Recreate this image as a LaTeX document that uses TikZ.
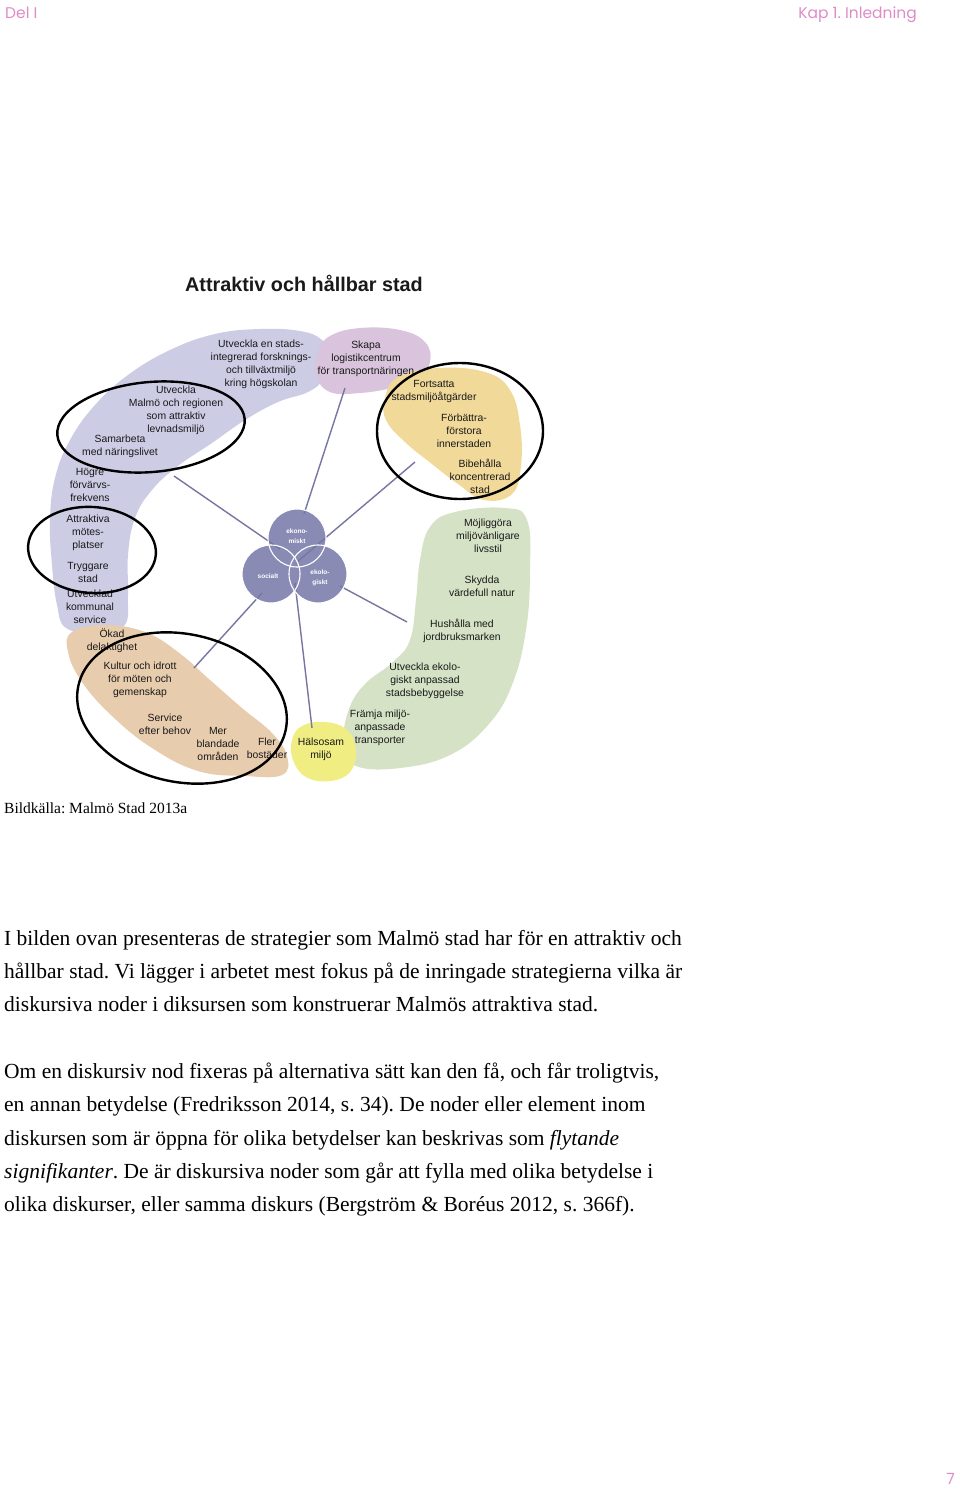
\documentclass[tikz,border=0pt]{standalone}
\usepackage{fontspec}
\setmainfont{Liberation Serif}
\newfontfamily\diafont{Liberation Sans}
\newfontfamily\headfont{Poppins}
\newfontfamily\bodyfont{Liberation Serif}
\frenchspacing
\definecolor{hdpink}{RGB}{222,140,200}
\definecolor{blueblob}{RGB}{204,205,229}
\definecolor{pinkblob}{RGB}{218,196,221}
\definecolor{yelblob}{RGB}{241,217,154}
\definecolor{greenblob}{RGB}{213,226,197}
\definecolor{tanblob}{RGB}{232,204,174}
\definecolor{halblob}{RGB}{240,238,130}
\definecolor{venn}{RGB}{138,139,181}
\definecolor{conn}{RGB}{118,118,160}
\definecolor{lbltext}{RGB}{25,25,25}
\begin{document}
\begin{tikzpicture}[x=1pt,y=-1pt,
  lbl/.style={font=\diafont\fontsize{10.4}{13}\selectfont, align=center, inner sep=0pt, text=lbltext},
  vlbl/.style={font=\diafont\bfseries\fontsize{6.5}{9.5}\selectfont, align=center, inner sep=0pt, text=white},
  body/.style={font=\bodyfont\fontsize{21.5}{26}\selectfont, anchor=base west, inner sep=0pt},
  hd/.style={font=\headfont\fontsize{15.5}{18}\selectfont, text=hdpink, inner sep=0pt},
  ring/.style={draw=black, line width=2.4pt},
  connector/.style={draw=conn, line width=1.4pt}]
\useasboundingbox (0,0) rectangle (960,1489);
\fill[white] (0,0) rectangle (960,1489);

% header
\node[hd, anchor=base west] (hdl) at (5,18) {Del I};
\node[hd, anchor=base east] (hdr) at (917,18) {Kap 1. Inledning};

% title
\node[font=\diafont\bfseries\fontsize{19.8}{23}\selectfont, inner sep=0pt, text=black!90] (title) at (304,283) {Attraktiv och hållbar stad};

% blobs
\fill[blueblob] plot[smooth cycle, tension=0.7] coordinates {
 (322,340) (300,331) (260,329) (215,334) (170,350) (128,375) (95,405) (70,440) (55,478) (50,520) (52,565) (57,605) (66,628) (95,632) (124,626) (128,595) (128,555) (135,518) (152,490) (178,466) (212,443) (245,420) (278,402) (308,392) (324,378) (328,356)};
\fill[pinkblob] plot[smooth cycle, tension=0.7] coordinates {
 (318,352) (330,336) (360,328) (400,330) (425,342) (430,362) (418,380) (392,388) (360,393) (330,392) (316,375)};
\fill[yelblob] plot[smooth cycle, tension=0.7] coordinates {
 (385,398) (398,377) (438,368) (485,372) (510,390) (520,425) (521,465) (512,494) (484,500) (458,484) (432,464) (405,442) (386,420)};
\fill[greenblob] plot[smooth cycle, tension=0.7] coordinates {
 (505,508) (527,520) (530,570) (526,630) (512,685) (488,725) (450,755) (400,768) (356,766) (344,745) (348,712) (364,685) (393,662) (410,640) (416,600) (420,560) (430,527) (455,512)};
\fill[tanblob] plot[smooth cycle, tension=0.7] coordinates {
 (72,632) (105,625) (145,632) (178,652) (210,680) (242,708) (272,733) (287,756) (282,775) (245,776) (198,771) (152,748) (112,716) (82,682) (68,652)};
\fill[halblob] plot[smooth cycle, tension=0.7] coordinates {
 (292,740) (302,726) (325,722) (347,730) (356,750) (350,772) (330,781) (306,777) (293,760)};

% venn circles
\coordinate (vE) at (297,538);
\coordinate (vS) at (271,574);
\coordinate (vK) at (318,574);
\fill[venn] (vE) circle[radius=29pt];
\fill[venn] (vS) circle[radius=29pt];
\fill[venn] (vK) circle[radius=29pt];

% connector end points
\coordinate (cBlue) at (174,476);
\coordinate (cVenn1) at (280,549);
\coordinate (cSkapa) at (345,388);
\coordinate (cVenn2) at (304,514);
\coordinate (cYel) at (415,462);
\coordinate (cVenn3) at (297,562);
\coordinate (cVenn4) at (340,586);
\coordinate (cGreen) at (407,622);
\coordinate (cVenn5) at (295,583);
\coordinate (cHals) at (312,728);
\coordinate (cVenn6) at (262,593);
\coordinate (cTan) at (194,668);

\draw[connector] (cBlue) -- (cVenn1);
\draw[connector] (cSkapa) -- (cVenn2);
\draw[connector] (cYel) -- (cVenn3);
\draw[connector] (cVenn4) -- (cGreen);
\draw[connector] (cVenn5) -- (cHals);
\draw[connector] (cVenn6) -- (cTan);

\draw[white, line width=1.1pt] (vE) circle[radius=29pt];
\draw[white, line width=1.1pt] (vS) circle[radius=29pt];
\draw[white, line width=1.1pt] (vK) circle[radius=29pt];

\node[vlbl] (ekon) at (297,536) {ekono-\\miskt};
\node[vlbl] (soc) at (268,576) {socialt};
\node[vlbl] (ekol) at (320,578) {ekolo-\\giskt};

% labels
\node[lbl] (utv1) at (261,364) {Utveckla en stads-\\integrerad forsknings-\\och tillväxtmiljö\\kring högskolan};
\node[lbl] (skapa) at (366,359) {Skapa\\logistikcentrum\\för transportnäringen};
\node[lbl] (forts) at (434,391) {Fortsatta\\stadsmiljöåtgärder};
\node[lbl] (forb) at (464,431) {Förbättra-\\förstora\\innerstaden};
\node[lbl] (bibeh) at (480,476) {Bibehålla\\koncentrerad\\stad};
\node[lbl] (utvmalmo) at (176,410) {Utveckla\\Malmö och regionen\\som attraktiv\\levnadsmiljö};
\node[lbl] (samarb) at (120,446) {Samarbeta\\med näringslivet};
\node[lbl] (hogre) at (90,485) {Högre\\förvärvs-\\frekvens};
\node[lbl] (attr) at (88,533) {Attraktiva\\mötes-\\platser};
\node[lbl] (trygg) at (88,572) {Tryggare\\stad};
\node[lbl] (kommun) at (90,607) {Utvecklad\\kommunal\\service};
\node[lbl] (okad) at (112,641) {Ökad\\delaktighet};
\node[lbl] (kultur) at (140,680) {Kultur och idrott\\för möten och\\gemenskap};
\node[lbl] (service) at (165,724) {Service\\efter behov};
\node[lbl] (mer) at (218,744) {Mer\\blandade\\områden};
\node[lbl] (fler) at (267,748) {Fler\\bostäder};
\node[lbl] (halso) at (321,749) {Hälsosam\\miljö};
\node[lbl] (framja) at (380,728) {Främja miljö-\\anpassade\\transporter};
\node[lbl] (utvekol) at (425,681) {Utveckla ekolo-\\giskt anpassad\\stadsbebyggelse};
\node[lbl] (hush) at (462,631) {Hushålla med\\jordbruksmarken};
\node[lbl] (skydda) at (482,586) {Skydda\\värdefull natur};
\node[lbl] (mojl) at (488,536) {Möjliggöra\\miljövänligare\\livsstil};

% rings
\draw[ring, rotate around={5:(151,427)}] (151,427) ellipse[x radius=94pt, y radius=45pt];
\draw[ring, rotate around={-4:(92,550)}] (92,550) ellipse[x radius=64pt, y radius=43pt];
\draw[ring] (460,431) ellipse[x radius=83pt, y radius=68pt];
\draw[ring, rotate around={-12:(182,708)}] (182,708) ellipse[x radius=106pt, y radius=74pt];

% caption and body
\node[font=\bodyfont\fontsize{15.5}{18}\selectfont, anchor=base west, inner sep=0pt] (cap) at (4,813) {Bildkälla: Malmö Stad 2013a};

\node[body] (p1) at (4,945) {I bilden ovan presenteras de strategier som Malmö stad har för en attraktiv och};
\node[body] (p2) at (4,978) {hållbar stad. Vi lägger i arbetet mest fokus på de inringade strategierna vilka är};
\node[body] (p3) at (4,1011) {diskursiva noder i diksursen som konstruerar Malmös attraktiva stad.};
\node[body] (q1) at (4,1078) {Om en diskursiv nod fixeras på alternativa sätt kan den få, och får troligtvis,};
\node[body] (q2) at (4,1111) {en annan betydelse (Fredriksson 2014, s. 34). De noder eller element inom};
\node[body] (q3) at (4,1145) {diskursen som är öppna för olika betydelser kan beskrivas som \textit{flytande}};
\node[body] (q4) at (4,1178) {\textit{signifikanter}. De är diskursiva noder som går att fylla med olika betydelse i};
\node[body] (q5) at (4,1211) {olika diskurser, eller samma diskurs (Bergström \& Boréus 2012, s. 366f).};

\node[hd, anchor=base east] (pnum) at (955,1484) {7};
\end{tikzpicture}
\end{document}
